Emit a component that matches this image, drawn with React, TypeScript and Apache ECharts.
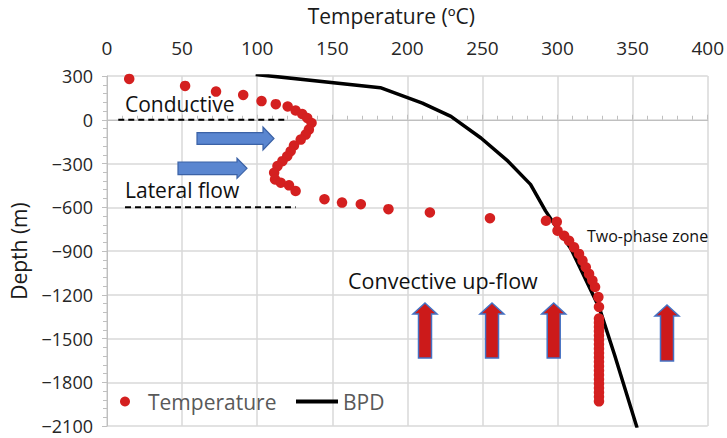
import React, { useEffect, useRef } from "react";
import * as echarts from "echarts";

// Measured temperature (°C) vs depth (m)
const tempC = [
  14.8, 52, 72.6, 90.7, 102.9, 112.4, 120.3, 125.6, 130, 133.3, 136.2, 134.4, 132.3, 129, 124.5,
  122.3, 120, 116.8, 113.5, 111.3, 111.9, 115.7, 121.2, 125.6, 144.8, 156.5, 169, 187.4, 215, 255,
  292.3, 299.5, 300, 304.4, 307.7, 311, 314.3, 316.6, 318.8, 321, 323.2, 325, 327.2, 327.6,
  327.6, 327.6, 327.6, 327.6, 327.6, 327.6, 327.6, 327.6, 327.6, 327.6, 327.6, 327.6, 327.6, 327.6,
  327.6, 327.6, 327.6, 327.6, 327.6, 327.6,
];
const depthM = [
  280, 232, 193, 170, 128, 107, 91, 63, 39, 12, -22, -68, -102, -136, -177,
  -216, -250, -284, -318, -363, -409, -432, -450, -489, -545, -568, -579, -613, -636, -675,
  -693, -700, -761, -795, -830, -875, -920, -966, -1011, -1057, -1102, -1147, -1216, -1284,
  -1363, -1392, -1421, -1450, -1480, -1510, -1540, -1570, -1600, -1630, -1660, -1690, -1720, -1750,
  -1780, -1810, -1840, -1870, -1900, -1931,
];

// Boiling point with depth curve
const bpdTemp = [99, 182, 210, 229, 249, 267, 282, 292, 309, 328, 338, 353];
const bpdDepth = [311, 220, 114, 23, -125, -284, -443, -625, -886, -1295, -1613, -2113];

// Annotation zone boundaries (dashed lines)
const conductiveLineT = [7.5, 120.7];
const conductiveLineD = [0, 0];
const lateralLineT = [12, 125.6];
const lateralLineD = [-600, -600];

const FONT = "Open Sans";

function redArrow(c: number, t: number, s: number, b: number) {
  const h = 12, w = 6.5;
  return {
    type: "polygon",
    shape: {
      points: [[c, t], [c + h, s], [c + w, s], [c + w, b], [c - w, b], [c - w, s], [c - h, s]],
    },
    style: { fill: "#cc1a1a", stroke: "#4472c4", lineWidth: 1.5, lineJoin: "miter" },
    silent: true,
    z: 10,
  };
}

function blueArrow(tail: number, shoulder: number, tip: number, cy: number, hh: number, bh: number) {
  return {
    type: "polygon",
    shape: {
      points: [
        [tail, cy - bh], [shoulder, cy - bh], [shoulder, cy - hh], [tip, cy],
        [shoulder, cy + hh], [shoulder, cy + bh], [tail, cy + bh],
      ],
    },
    style: { fill: "#5a86d0", stroke: "#3b62a6", lineWidth: 1.2, lineJoin: "miter" },
    silent: true,
    z: 10,
  };
}

function label(text: string, x: number, y: number, size: number) {
  return {
    type: "text",
    x,
    y,
    style: {
      text,
      fill: "#111111",
      font: `${size}px "${FONT}"`,
      textAlign: "left",
      textVerticalAlign: "middle",
    },
    silent: true,
    z: 10,
  };
}

export default function App() {
  const ref = useRef<HTMLDivElement>(null);

  useEffect(() => {
    if (!ref.current) return;
    const chart = echarts.init(ref.current, undefined, { renderer: "svg" });
    const tempData = tempC.map((t, i) => [t, depthM[i]]);
    const bpdData = bpdTemp.map((t, i) => [t, bpdDepth[i]]);
    chart.setOption({
      animation: false,
      backgroundColor: "#ffffff",
      textStyle: { fontFamily: FONT },
      grid: { left: 107, right: 16, top: 76, bottom: 12, containLabel: false },
      xAxis: {
        type: "value",
        position: "top",
        min: 0,
        max: 400,
        interval: 50,
        name: "Temperature (ºC)",
        nameLocation: "middle",
        nameGap: 50,
        nameTextStyle: { fontSize: 21, color: "#1a1a1a", fontFamily: FONT, padding: [0, 32, 0, 0] },
        axisLine: { show: true, lineStyle: { color: "#bfbfbf", width: 1 } },
        axisTick: { show: true, length: 5, lineStyle: { color: "#bfbfbf" } },
        minorTick: { show: true, splitNumber: 5, length: 4, lineStyle: { color: "#bfbfbf" } },
        axisLabel: { fontSize: 19, color: "#262626", margin: 19, fontFamily: FONT },
        splitLine: { show: true, lineStyle: { color: "#d9d9d9", width: 1.5 } },
      },
      yAxis: {
        type: "value",
        min: -2100,
        max: 300,
        interval: 300,
        name: "Depth (m)",
        nameLocation: "middle",
        nameGap: 78,
        nameRotate: 90,
        nameTextStyle: { fontSize: 21, color: "#1a1a1a", fontFamily: FONT },
        axisLine: { show: true, lineStyle: { color: "#bfbfbf", width: 1 } },
        axisTick: { show: true, length: 5, lineStyle: { color: "#bfbfbf" } },
        minorTick: { show: true, splitNumber: 5, length: 4, lineStyle: { color: "#bfbfbf" } },
        axisLabel: {
          fontSize: 18,
          lineHeight: 16,
          color: "#262626",
          margin: 14,
          fontFamily: FONT,
          formatter: (v: number) => String(v).replace("-", "−"),
        },
        splitLine: { show: true, lineStyle: { color: "#d9d9d9", width: 1.5 } },
      },
      legend: [
        {
          data: [{ name: "Temperature", icon: "circle" }],
          left: 115,
          top: 386,
          itemWidth: 10,
          itemHeight: 10,
          textStyle: { fontSize: 21, color: "#595959", fontFamily: FONT, padding: [0, 0, 0, 13] },
        },
        {
          data: [{ name: "BPD", icon: "rect" }],
          left: 291,
          top: 386,
          itemWidth: 42,
          itemHeight: 4,
          itemGap: 4,
          itemStyle: { color: "#000000" },
          textStyle: { fontSize: 21, color: "#595959", fontFamily: FONT },
        },
      ],
      series: [
        {
          name: "BPD",
          type: "line",
          data: bpdData,
          symbol: "none",
          lineStyle: { color: "#000000", width: 3.5 },
          itemStyle: { color: "#000000" },
          z: 2,
        },
        {
          name: "Temperature",
          type: "scatter",
          data: tempData,
          symbol: "circle",
          symbolSize: 10.5,
          itemStyle: { color: "#d42020", opacity: 1 },
          z: 3,
        },
        {
          name: "conductive-boundary",
          type: "line",
          data: conductiveLineT.map((t, i) => [t, conductiveLineD[i]]),
          symbol: "none",
          silent: true,
          lineStyle: { color: "#000000", width: 2, type: [6, 4] },
        },
        {
          name: "lateral-boundary",
          type: "line",
          data: lateralLineT.map((t, i) => [t, lateralLineD[i]]),
          symbol: "none",
          silent: true,
          lineStyle: { color: "#000000", width: 2, type: [6, 4] },
        },
      ],
      graphic: [
        blueArrow(197, 263, 274, 138.5, 11.5, 5.8),
        blueArrow(178, 237, 247, 168.3, 10, 6.3),
        redArrow(425, 303, 314, 358),
        redArrow(492, 303, 314, 358),
        redArrow(553.7, 303, 314, 358),
        redArrow(667, 305, 316, 361),
        label("Conductive", 125, 104, 21),
        label("Lateral flow", 125, 190, 21),
        label("Convective up-flow", 348, 280, 21.5),
        label("Two-phase zone", 587, 236, 16),
      ],
    });
    return () => chart.dispose();
  }, []);

  return (
    <div
      ref={ref}
      style={{ position: "absolute", left: 0, top: 0, width: 727, height: 438 }}
    />
  );
}
